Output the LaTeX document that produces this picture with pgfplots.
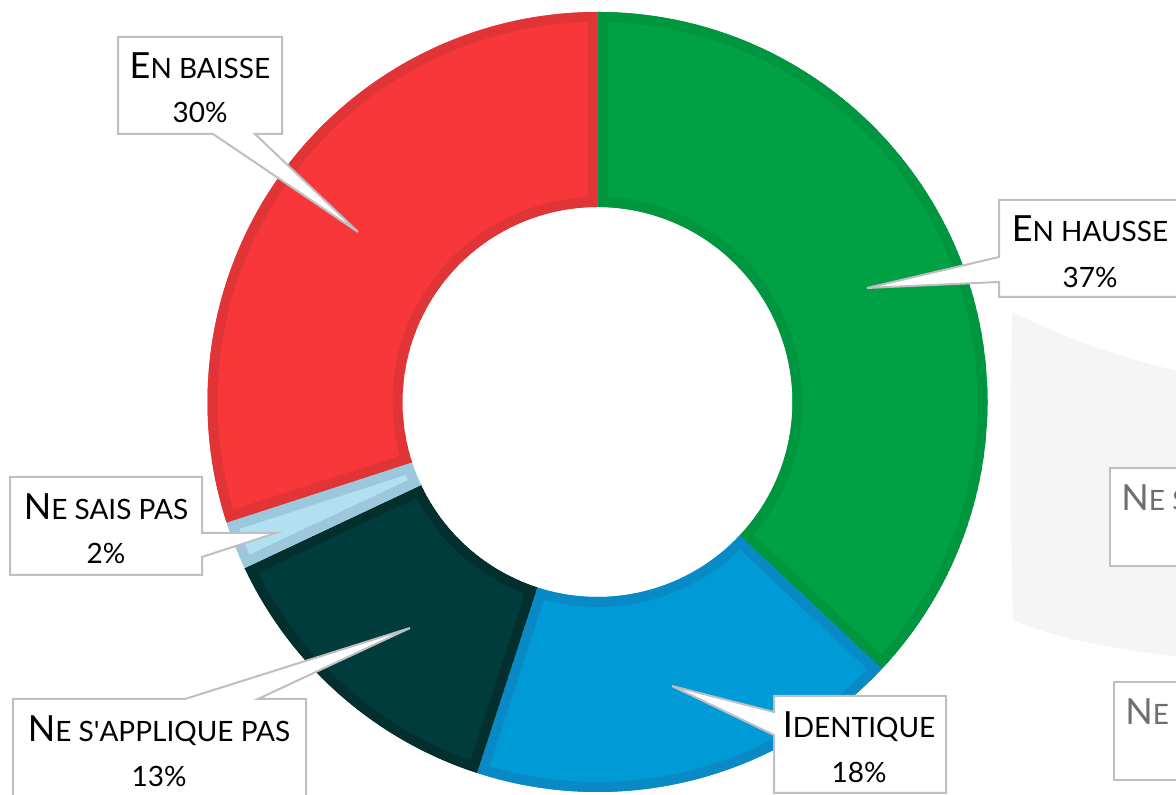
\documentclass[border=0pt]{standalone}
\usepackage{pgfplots}
\usepackage{pgfplotstable}
\pgfplotsset{compat=1.18}
\usepackage{fontspec}
\setmainfont{Lato}

\definecolor{slice0}{HTML}{00A045}\definecolor{border0}{HTML}{00963F}
\definecolor{slice1}{HTML}{009BD6}\definecolor{border1}{HTML}{0989C6}
\definecolor{slice2}{HTML}{013C3C}\definecolor{border2}{HTML}{03302F}
\definecolor{slice3}{HTML}{B2DFF1}\definecolor{border3}{HTML}{9CC8DC}
\definecolor{slice4}{HTML}{F7373A}\definecolor{border4}{HTML}{E03437}
\definecolor{callout}{HTML}{BFBFBF}
\definecolor{ghost}{HTML}{F5F5F5}
\definecolor{ghosttext}{HTML}{6E6E6E}

% share of each answer, clockwise from the top
\pgfplotstableread{
label value
hausse 37
identique 18
applique 13
saispas 2
baisse 30
}\piedata

% small caps by hand: big first letter, smaller capitals after it
\newcommand\fsc[2]{{\fontsize{18}{20}\selectfont #1}{\fontsize{14}{16}\selectfont #2}}
\newcommand\pc[1]{{\fontsize{14}{16}\selectfont #1\%}}

\begin{document}
\begin{tikzpicture}
\begin{axis}[
    hide axis,
    x=0.5pt, y=0.5pt,
    xmin=0, xmax=1176,
    ymin=0, ymax=795,
    clip=false,
]
\coordinate (sw) at (axis cs:0,0);
\coordinate (ne) at (axis cs:1176,795);

% faded piece of the neighbouring chart on the right
\fill[ghost] (axis cs:1012,795-312) .. controls (axis cs:1070,795-340) and (axis cs:1120,795-358) .. (axis cs:1190,795-374)
    -- (axis cs:1190,795-658) .. controls (axis cs:1120,795-650) and (axis cs:1060,795-640) .. (axis cs:1013,795-620)
    .. controls (axis cs:1010,795-520) and (axis cs:1010,795-420) .. cycle;

% donut: centre (597.5,402) px, outer 390 px, inner 195 px
\pgfplotsextra{
  \def\acc{90}
  \def\slicepath{(axis cs:{597.5+390*cos(\acc)},{393+390*sin(\acc)})
      arc[start angle=\acc, end angle=\aend, radius=195pt]
      -- (axis cs:{597.5+195*cos(\aend)},{393+195*sin(\aend)})
      arc[start angle=\aend, end angle=\acc, radius=97.5pt] -- cycle}
  \pgfplotsforeachungrouped \i in {0,...,4}{%
    \pgfplotstablegetelem{\i}{value}\of\piedata
    \pgfmathsetmacro\aend{\acc-3.6*\pgfplotsretval}%
    \begin{scope}
      \clip \slicepath;
      \fill[slice\i] \slicepath;
      \draw[border\i, line width=10pt] \slicepath;
    \end{scope}
    \global\let\acc\aend
  }
}

% callouts
\begin{scope}[every path/.style={fill=white, draw=callout, line width=1pt, line join=miter}]
\path (axis cs:118,795-37) -- (axis cs:282,795-37) -- (axis cs:282,795-134) -- (axis cs:255,795-134)
  -- (axis cs:358,795-232) -- (axis cs:213,795-134) -- (axis cs:118,795-134) -- cycle;
\path (axis cs:999,795-200) -- (axis cs:1190,795-200) -- (axis cs:1190,795-297) -- (axis cs:999,795-297)
  -- (axis cs:999,795-282) -- (axis cs:867,795-288) -- (axis cs:999,795-257) -- cycle;
\path (axis cs:10,795-477) -- (axis cs:202,795-477) -- (axis cs:202,795-533) -- (axis cs:276,795-533)
  -- (axis cs:202,795-557) -- (axis cs:202,795-575) -- (axis cs:10,795-575) -- cycle;
\path (axis cs:13,795-699) -- (axis cs:185,795-699) -- (axis cs:410,795-628) -- (axis cs:258,795-699)
  -- (axis cs:306,795-699) -- (axis cs:306,795-810) -- (axis cs:13,795-810) -- cycle;
\path (axis cs:774,795-696) -- (axis cs:946,795-696) -- (axis cs:946,795-793) -- (axis cs:774,795-793)
  -- (axis cs:774,795-735) -- (axis cs:672,795-686) -- (axis cs:774,795-712) -- cycle;
\path (axis cs:1110,795-468) rectangle (axis cs:1300,795-566);
\path (axis cs:1114,795-682) rectangle (axis cs:1300,795-780);
\end{scope}

\node[anchor=base] at (axis cs:200,795-79) {\fsc{E}{N BAISSE}};
\node[anchor=base] at (axis cs:200,795-123) {\pc{30}};
\node[anchor=base] at (axis cs:1090,795-242) {\fsc{E}{N HAUSSE}};
\node[anchor=base] at (axis cs:1090,795-288) {\pc{37}};
\node[anchor=base] at (axis cs:106,795-520) {\fsc{N}{E SAIS PAS}};
\node[anchor=base] at (axis cs:106,795-564) {\pc{2}};
\node[anchor=base] at (axis cs:159,795-742) {\fsc{N}{E S\textquotesingle APPLIQUE PAS}};
\node[anchor=base] at (axis cs:159,795-787) {\pc{13}};
\node[anchor=base] at (axis cs:859,795-738) {\fsc{I}{DENTIQUE}};
\node[anchor=base] at (axis cs:859,795-783) {\pc{18}};
\node[anchor=base west, inner sep=0pt, text=ghosttext] at (axis cs:1121,795-511) {\fsc{N}{E SAIS PAS}};
\node[anchor=base west, inner sep=0pt, text=ghosttext] at (axis cs:1125,795-725) {\fsc{N}{E S\textquotesingle APPLIQUE PAS}};
\end{axis}
\pgfresetboundingbox
\useasboundingbox (sw) rectangle (ne);
\end{tikzpicture}
\end{document}
